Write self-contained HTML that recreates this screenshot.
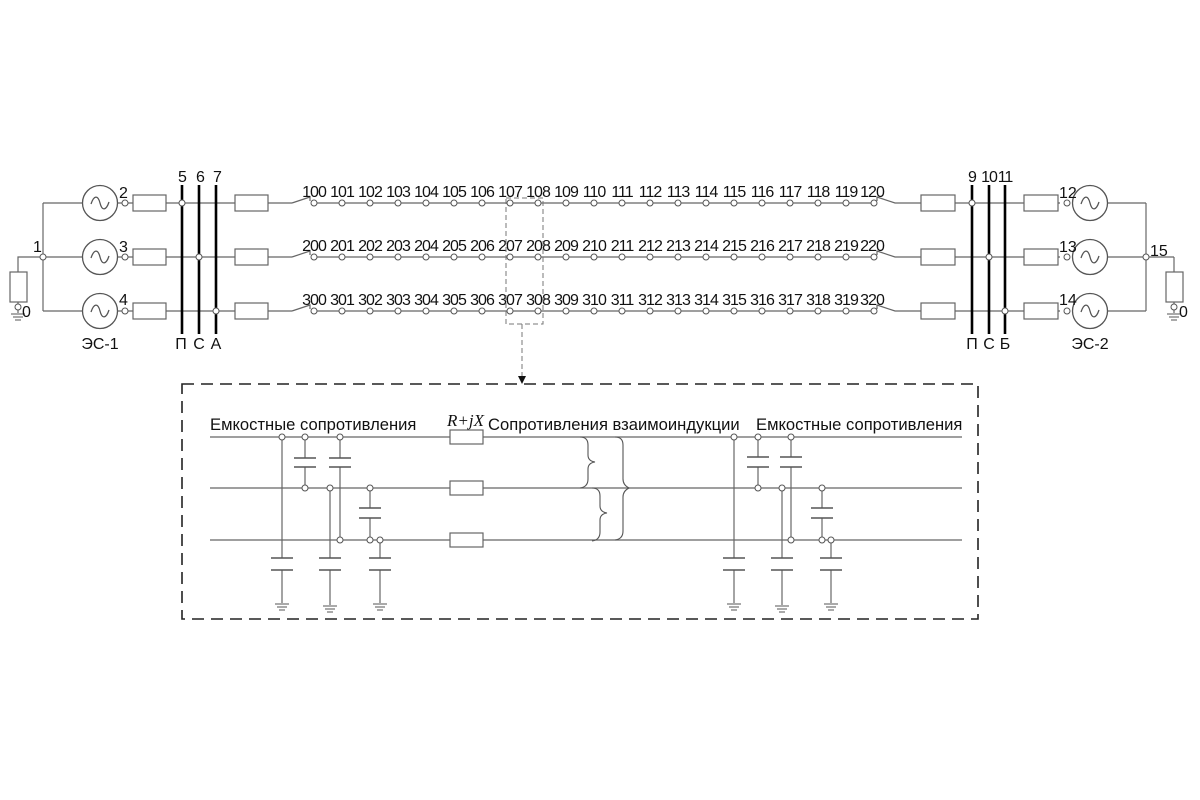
<!DOCTYPE html>
<html><head><meta charset="utf-8"><style>
html,body{margin:0;padding:0;background:#fff}
svg{display:block}
text{font-family:"Liberation Sans",sans-serif;fill:#111}
</style></head><body>
<svg width="1200" height="800" viewBox="0 0 1200 800" xmlns="http://www.w3.org/2000/svg">
<defs>
<g id="gen"><circle r="17.5" fill="#fff" stroke="#555" stroke-width="1.3"/><path d="M-9,1 C-6,-8 -2,-8 0,0 C2,8 6,8 9,-1" fill="none" stroke="#555" stroke-width="1.3"/></g>
<g id="gnd" stroke="#555" stroke-width="1"><line x1="-7" y1="0" x2="7" y2="0"/><line x1="-5" y1="3" x2="5" y2="3"/><line x1="-3" y1="6" x2="3" y2="6"/></g>
<circle id="n" r="3" fill="#fff" stroke="#555" stroke-width="1"/>
</defs>
<g stroke="#666" stroke-width="1.2" fill="none">
<polyline points="18,272 18,257 43,257"/>
<rect x="10" y="272" width="17" height="30" fill="#fff"/>
<line x1="18" y1="302" x2="18" y2="313"/>
<line x1="43" y1="203" x2="43" y2="311"/>
<line x1="43" y1="203" x2="83" y2="203"/><line x1="43" y1="257" x2="83" y2="257"/><line x1="43" y1="311" x2="83" y2="311"/>
<line x1="117" y1="203" x2="292" y2="203"/><line x1="117" y1="257" x2="292" y2="257"/><line x1="117" y1="311" x2="292" y2="311"/>
<rect x="133" y="195" width="33" height="16" fill="#fff"/><rect x="133" y="249" width="33" height="16" fill="#fff"/><rect x="133" y="303" width="33" height="16" fill="#fff"/>
<rect x="235" y="195" width="33" height="16" fill="#fff"/><rect x="235" y="249" width="33" height="16" fill="#fff"/><rect x="235" y="303" width="33" height="16" fill="#fff"/>
<polyline points="292,203 310,197 310,201"/><polyline points="292,257 310,251 310,255"/><polyline points="292,311 310,305 310,309"/>
<line x1="314" y1="203" x2="873" y2="203"/><line x1="314" y1="257" x2="873" y2="257"/><line x1="314" y1="311" x2="873" y2="311"/>
<polyline points="877,201 877,197 895,203 1060,203"/><polyline points="877,255 877,251 895,257 1060,257"/><polyline points="877,309 877,305 895,311 1060,311"/>
<rect x="921" y="195" width="34" height="16" fill="#fff"/><rect x="921" y="249" width="34" height="16" fill="#fff"/><rect x="921" y="303" width="34" height="16" fill="#fff"/>
<rect x="1024" y="195" width="34" height="16" fill="#fff"/><rect x="1024" y="249" width="34" height="16" fill="#fff"/><rect x="1024" y="303" width="34" height="16" fill="#fff"/>
<line x1="1107" y1="203" x2="1146" y2="203"/><line x1="1107" y1="257" x2="1174" y2="257"/><line x1="1107" y1="311" x2="1146" y2="311"/>
<line x1="1146" y1="203" x2="1146" y2="311"/>
<line x1="1174" y1="257" x2="1174" y2="272"/>
<rect x="1166" y="272" width="17" height="30" fill="#fff"/>
<line x1="1174" y1="302" x2="1174" y2="313"/>
</g>
<use href="#gnd" x="18" y="314"/><use href="#gnd" x="1174" y="314"/>
<use href="#n" x="18" y="307"/><use href="#n" x="1174" y="307"/>
<use href="#gen" x="100" y="203"/><use href="#gen" x="100" y="257"/><use href="#gen" x="100" y="311"/>
<use href="#gen" x="1090" y="203"/><use href="#gen" x="1090" y="257"/><use href="#gen" x="1090" y="311"/>
<g stroke="#000" stroke-width="2.6">
<line x1="182" y1="185" x2="182" y2="334"/><line x1="199" y1="185" x2="199" y2="334"/><line x1="216" y1="185" x2="216" y2="334"/>
<line x1="972" y1="185" x2="972" y2="334"/><line x1="989" y1="185" x2="989" y2="334"/><line x1="1005" y1="185" x2="1005" y2="334"/>
</g>
<use href="#n" x="43" y="257"/><use href="#n" x="125" y="203"/><use href="#n" x="125" y="257"/><use href="#n" x="125" y="311"/>
<use href="#n" x="182" y="203"/><use href="#n" x="199" y="257"/><use href="#n" x="216" y="311"/>
<use href="#n" x="972" y="203"/><use href="#n" x="989" y="257"/><use href="#n" x="1005" y="311"/>
<use href="#n" x="1067" y="203"/><use href="#n" x="1067" y="257"/><use href="#n" x="1067" y="311"/>
<use href="#n" x="1146" y="257"/>
<g id="row1">
<use href="#n" x="314" y="203"/><use href="#n" x="342" y="203"/><use href="#n" x="370" y="203"/><use href="#n" x="398" y="203"/><use href="#n" x="426" y="203"/><use href="#n" x="454" y="203"/><use href="#n" x="482" y="203"/><use href="#n" x="510" y="203"/><use href="#n" x="538" y="203"/><use href="#n" x="566" y="203"/><use href="#n" x="594" y="203"/><use href="#n" x="622" y="203"/><use href="#n" x="650" y="203"/><use href="#n" x="678" y="203"/><use href="#n" x="706" y="203"/><use href="#n" x="734" y="203"/><use href="#n" x="762" y="203"/><use href="#n" x="790" y="203"/><use href="#n" x="818" y="203"/><use href="#n" x="846" y="203"/><use href="#n" x="874" y="203"/>
</g>
<use href="#row1" y="54"/><use href="#row1" y="108"/>
<g font-size="16" text-anchor="middle" letter-spacing="-1">
<text x="314" y="197">100</text><text x="342" y="197">101</text><text x="370" y="197">102</text><text x="398" y="197">103</text><text x="426" y="197">104</text><text x="454" y="197">105</text><text x="482" y="197">106</text><text x="510" y="197">107</text><text x="538" y="197">108</text><text x="566" y="197">109</text><text x="594" y="197">110</text><text x="622" y="197">111</text><text x="650" y="197">112</text><text x="678" y="197">113</text><text x="706" y="197">114</text><text x="734" y="197">115</text><text x="762" y="197">116</text><text x="790" y="197">117</text><text x="818" y="197">118</text><text x="846" y="197">119</text><text x="872" y="197">120</text>
<text x="314" y="251">200</text><text x="342" y="251">201</text><text x="370" y="251">202</text><text x="398" y="251">203</text><text x="426" y="251">204</text><text x="454" y="251">205</text><text x="482" y="251">206</text><text x="510" y="251">207</text><text x="538" y="251">208</text><text x="566" y="251">209</text><text x="594" y="251">210</text><text x="622" y="251">211</text><text x="650" y="251">212</text><text x="678" y="251">213</text><text x="706" y="251">214</text><text x="734" y="251">215</text><text x="762" y="251">216</text><text x="790" y="251">217</text><text x="818" y="251">218</text><text x="846" y="251">219</text><text x="872" y="251">220</text>
<text x="314" y="305">300</text><text x="342" y="305">301</text><text x="370" y="305">302</text><text x="398" y="305">303</text><text x="426" y="305">304</text><text x="454" y="305">305</text><text x="482" y="305">306</text><text x="510" y="305">307</text><text x="538" y="305">308</text><text x="566" y="305">309</text><text x="594" y="305">310</text><text x="622" y="305">311</text><text x="650" y="305">312</text><text x="678" y="305">313</text><text x="706" y="305">314</text><text x="734" y="305">315</text><text x="762" y="305">316</text><text x="790" y="305">317</text><text x="818" y="305">318</text><text x="846" y="305">319</text><text x="872" y="305">320</text>
<text x="182" y="182">5</text><text x="200" y="182">6</text><text x="217" y="182">7</text>
<text x="972" y="182">9</text><text x="989" y="182">10</text><text x="1005" y="182">11</text>
</g>
<g font-size="16" text-anchor="middle">
<text x="181" y="349">П</text><text x="199" y="349">С</text><text x="216" y="349">А</text>
<text x="972" y="349">П</text><text x="989" y="349">С</text><text x="1005" y="349">Б</text>
<text x="100" y="349">ЭС-1</text><text x="1090" y="349">ЭС-2</text>
</g>
<g font-size="16">
<text x="119" y="198">2</text><text x="119" y="252">3</text><text x="119" y="305">4</text>
<text x="33" y="252">1</text><text x="22" y="317">0</text>
<text x="1059" y="198">12</text><text x="1059" y="252">13</text><text x="1059" y="305">14</text>
<text x="1150" y="256">15</text><text x="1179" y="317">0</text>
</g>
<g stroke="#777" stroke-width="1" fill="none" stroke-dasharray="5,3">
<rect x="506" y="198" width="37" height="126"/>
<line x1="522" y1="324" x2="522" y2="376"/>
</g>
<path d="M518,376 L526,376 L522,384 Z" fill="#111"/>
<rect x="182" y="384" width="796" height="235" fill="none" stroke="#222" stroke-width="1.6" stroke-dasharray="12,7"/>
<g stroke="#666" stroke-width="1.2" fill="none">
<line x1="210" y1="437" x2="962" y2="437"/><line x1="210" y1="488" x2="962" y2="488"/><line x1="210" y1="540" x2="962" y2="540"/>
<line x1="282" y1="437" x2="282" y2="558"/><line x1="282" y1="570" x2="282" y2="603"/>
<line x1="305" y1="437" x2="305" y2="458"/><line x1="305" y1="467" x2="305" y2="488"/>
<line x1="330" y1="488" x2="330" y2="558"/><line x1="330" y1="570" x2="330" y2="605"/>
<line x1="340" y1="437" x2="340" y2="458"/><line x1="340" y1="467" x2="340" y2="540"/>
<line x1="370" y1="488" x2="370" y2="508"/><line x1="370" y1="518" x2="370" y2="540"/>
<line x1="380" y1="540" x2="380" y2="558"/><line x1="380" y1="570" x2="380" y2="603"/>
<line x1="734" y1="437" x2="734" y2="558"/><line x1="734" y1="570" x2="734" y2="603"/>
<line x1="758" y1="437" x2="758" y2="457"/><line x1="758" y1="467" x2="758" y2="488"/>
<line x1="782" y1="488" x2="782" y2="558"/><line x1="782" y1="570" x2="782" y2="605"/>
<line x1="791" y1="437" x2="791" y2="457"/><line x1="791" y1="467" x2="791" y2="540"/>
<line x1="822" y1="488" x2="822" y2="508"/><line x1="822" y1="518" x2="822" y2="540"/>
<line x1="831" y1="540" x2="831" y2="558"/><line x1="831" y1="570" x2="831" y2="603"/>
</g>
<g stroke="#555" stroke-width="1.5">
<path d="M271,558h22M271,570h22 M294,458h22M294,467h22 M319,558h22M319,570h22 M329,458h22M329,467h22 M359,508h22M359,518h22 M369,558h22M369,570h22"/>
<path d="M723,558h22M723,570h22 M747,457h22M747,467h22 M771,558h22M771,570h22 M780,457h22M780,467h22 M811,508h22M811,518h22 M820,558h22M820,570h22"/>
</g>
<use href="#gnd" x="282" y="604"/><use href="#gnd" x="330" y="606"/><use href="#gnd" x="380" y="604"/>
<use href="#gnd" x="734" y="604"/><use href="#gnd" x="782" y="606"/><use href="#gnd" x="831" y="604"/>
<use href="#n" x="282" y="437"/><use href="#n" x="305" y="437"/><use href="#n" x="340" y="437"/><use href="#n" x="305" y="488"/><use href="#n" x="330" y="488"/><use href="#n" x="370" y="488"/><use href="#n" x="340" y="540"/><use href="#n" x="370" y="540"/><use href="#n" x="380" y="540"/>
<use href="#n" x="734" y="437"/><use href="#n" x="758" y="437"/><use href="#n" x="791" y="437"/><use href="#n" x="758" y="488"/><use href="#n" x="782" y="488"/><use href="#n" x="822" y="488"/><use href="#n" x="791" y="540"/><use href="#n" x="822" y="540"/><use href="#n" x="831" y="540"/>
<g stroke="#666" stroke-width="1.2" fill="#fff">
<rect x="450" y="430" width="33" height="14"/><rect x="450" y="481" width="33" height="14"/><rect x="450" y="533" width="33" height="14"/>
</g>
<g stroke="#555" stroke-width="1.1" fill="none">
<path d="M580,437 q8,0 8,8 v10 q0,6 7,7 q-7,1 -7,7 v10 q0,8 -8,9"/>
<path d="M592,488 q8,0 8,8 v10 q0,6 7,7 q-7,1 -7,7 v12 q0,8 -8,9"/>
<path d="M615,437 q8,0 8,8 v34 q0,6 6,9 q-6,3 -6,9 v34 q0,8 -8,9"/>
</g>
<g font-size="16.6">
<text x="210" y="430">Емкостные сопротивления</text>
<text x="488" y="430">Сопротивления взаимоиндукции</text>
<text x="756" y="430">Емкостные сопротивления</text>
<text x="447" y="426" style="font-family:'Liberation Serif',serif;font-style:italic;font-size:17px">R+jX</text>
</g>
</svg>
</body></html>
